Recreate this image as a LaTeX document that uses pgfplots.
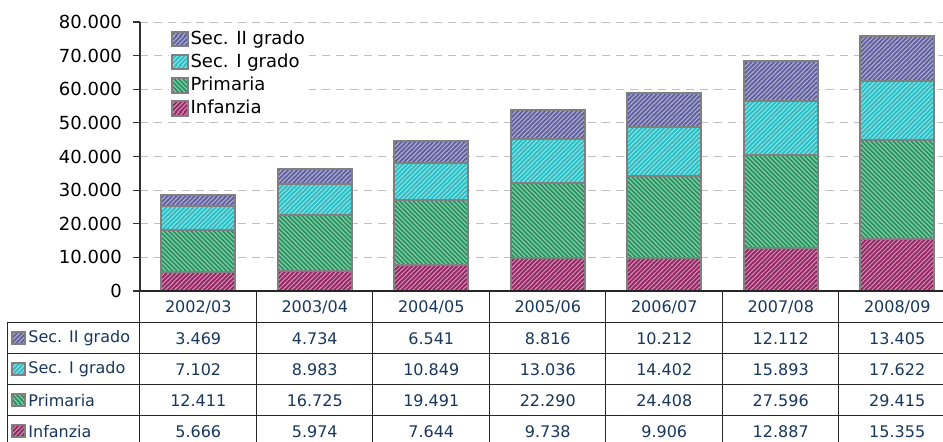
\documentclass[border=0pt]{standalone}
\usepackage{pgfplots}
\pgfplotsset{compat=1.18}
\usepackage{pgfplotstable}
\usetikzlibrary{patterns}
\usepackage{fontspec}
\setmainfont{DejaVu Sans}
\definecolor{cInf}{RGB}{152,38,102}
\definecolor{cPri}{RGB}{38,150,96}
\definecolor{cSa}{RGB}{40,192,198}
\definecolor{cSb}{RGB}{96,96,160}
\definecolor{navy}{RGB}{23,55,94}
\definecolor{bord}{RGB}{128,128,128}
\newcommand{\declhatch}[3]{% name, colour, direction (1 = NE, 0 = NW)
  \pgfdeclarepatterninherentlycolored{#1}{\pgfpointorigin}{\pgfqpoint{4.7pt}{4.7pt}}{\pgfqpoint{4.7pt}{4.7pt}}{%
    \pgfsetfillcolor{#2}%
    \pgfpathrectangle{\pgfqpoint{-0.5pt}{-0.5pt}}{\pgfqpoint{5.7pt}{5.7pt}}%
    \pgfusepath{fill}%
    \pgfsetstrokecolor{#2!50!white}%
    \pgfsetlinewidth{0.55pt}%
    \ifnum#3=1
      \pgfpathmoveto{\pgfqpoint{-1pt}{-5.7pt}}\pgfpathlineto{\pgfqpoint{5.7pt}{1pt}}%
      \pgfpathmoveto{\pgfqpoint{-1pt}{-3.35pt}}\pgfpathlineto{\pgfqpoint{5.7pt}{3.35pt}}%
      \pgfpathmoveto{\pgfqpoint{-1pt}{-1pt}}\pgfpathlineto{\pgfqpoint{5.7pt}{5.7pt}}%
      \pgfpathmoveto{\pgfqpoint{-1pt}{1.35pt}}\pgfpathlineto{\pgfqpoint{5.7pt}{8.05pt}}%
      \pgfpathmoveto{\pgfqpoint{-1pt}{3.7pt}}\pgfpathlineto{\pgfqpoint{5.7pt}{10.4pt}}%
    \else
      \pgfpathmoveto{\pgfqpoint{-1pt}{1pt}}\pgfpathlineto{\pgfqpoint{5.7pt}{-5.7pt}}%
      \pgfpathmoveto{\pgfqpoint{-1pt}{3.35pt}}\pgfpathlineto{\pgfqpoint{5.7pt}{-3.35pt}}%
      \pgfpathmoveto{\pgfqpoint{-1pt}{5.7pt}}\pgfpathlineto{\pgfqpoint{5.7pt}{-1pt}}%
      \pgfpathmoveto{\pgfqpoint{-1pt}{8.05pt}}\pgfpathlineto{\pgfqpoint{5.7pt}{1.35pt}}%
      \pgfpathmoveto{\pgfqpoint{-1pt}{10.4pt}}\pgfpathlineto{\pgfqpoint{5.7pt}{3.7pt}}%
    \fi
    \pgfusepath{stroke}}}
\declhatch{hInf}{cInf}{1}
\declhatch{hPri}{cPri}{0}
\declhatch{hSa}{cSa}{1}
\declhatch{hSb}{cSb}{1}
\tikzset{
  barInf/.style={pattern=hInf, draw=bord, line width=1pt},
  barPri/.style={pattern=hPri, draw=bord, line width=1pt},
  barSa/.style={pattern=hSa, draw=bord, line width=1pt},
  barSb/.style={pattern=hSb, draw=bord, line width=1pt},
}
\newcommand{\tabfont}{\fontsize{8}{9.6}\selectfont}
\pgfplotstableread{
x inf pri seca secb
0 5666 12411 7102 3469
1 5974 16725 8983 4734
2 7644 19491 10849 6541
3 9738 22290 13036 8816
4 9906 24408 14402 10212
5 12887 27596 15893 12112
6 15355 29415 17622 13405
}\data
\begin{document}
\begin{tikzpicture}
\begin{axis}[
  at={(70pt,75pt)}, anchor=south west,
  scale only axis, width=407.75pt, height=134.5pt,
  xmin=-0.5, xmax=6.5, ymin=0, ymax=80000,
  ybar stacked, bar width=37pt,
  axis x line*=bottom, axis y line*=left,
  axis line style={black!80, line width=0.6pt},
  xtick={0,...,6},
  xticklabels={2002/03,2003/04,2004/05,2005/06,2006/07,2007/08,2008/09},
  x tick style={draw=none},
  xticklabel style={anchor=center, yshift=-4.4pt, font=\tabfont, text=navy},
  ytick={0,10000,...,80000},
  scaled y ticks=false,
  yticklabel style={font=\fontsize{9}{10.8}\selectfont, xshift=-2pt},
  /pgf/number format/1000 sep={.},
  /pgf/number format/assume math mode=true,
  tick align=outside, major tick length=3.5pt,
  y tick style={black!80, line width=0.6pt},
  ymajorgrids, grid style={gray!50, line width=0.5pt, dash pattern=on 4pt off 3pt},
  reverse legend,
  legend cell align=left,
  legend image code/.code={\path[#1] (0pt,-3.6pt) rectangle (8pt,3.6pt);},
  legend style={at={(0.035,0.985)}, anchor=north west, draw=none, fill=white,
    inner sep=1pt, row sep=1pt, font=\fontsize{9}{10.8}\selectfont,
    nodes={inner sep=0.8pt, text height=7pt, text depth=2pt}},
]
\addplot[barInf] table[x=x, y=inf] {\data};
\addplot[barPri] table[x=x, y=pri] {\data};
\addplot[barSa] table[x=x, y=seca] {\data};
\addplot[barSb] table[x=x, y=secb] {\data};
\legend{Infanzia, Primaria, Sec. I grado, Sec. II grado}
\end{axis}
\begin{axis}[
  at={(70pt,75pt)}, anchor=north west,
  scale only axis, width=407.75pt, height=77.5pt,
  xmin=-0.5, xmax=6.5, ymin=-5, ymax=0,
  hide axis, clip=false,
  /pgf/number format/1000 sep={.},
  /pgf/number format/assume math mode=true,
  nodes near coords style={anchor=center, font=\tabfont, text=navy, yshift=-0.5pt},
]
\addplot[draw=none, mark=none, nodes near coords, point meta=explicit] table[x=x, y expr=-1.5, meta=secb] {\data};
\addplot[draw=none, mark=none, nodes near coords, point meta=explicit] table[x=x, y expr=-2.5, meta=seca] {\data};
\addplot[draw=none, mark=none, nodes near coords, point meta=explicit] table[x=x, y expr=-3.5, meta=pri] {\data};
\addplot[draw=none, mark=none, nodes near coords, point meta=explicit] table[x=x, y expr=-4.5, meta=inf] {\data};
\draw[black!85, line width=0.6pt] (axis cs:-0.5,0) -- (axis cs:6.5,0);
\pgfplotsinvokeforeach{-0.5,0.5,1.5,2.5,3.5,4.5,5.5,6.5}{
  \draw[black!85, line width=0.5pt] (axis cs:#1,0) -- (axis cs:#1,-5);
}
\pgfplotsinvokeforeach{-1,-2,-3,-4,-5}{
  \draw[black!85, line width=0.5pt] ([xshift=-66pt]axis cs:-0.5,#1) -- (axis cs:6.5,#1);
}
\draw[black!85, line width=0.5pt] ([xshift=-66pt]axis cs:-0.5,-1) -- ([xshift=-66pt]axis cs:-0.5,-5);
\path[barSb] ([xshift=-64pt, yshift=-3pt]axis cs:-0.5,-1.5) rectangle ([xshift=-57.5pt, yshift=3pt]axis cs:-0.5,-1.5);
\path[barSa] ([xshift=-64pt, yshift=-3pt]axis cs:-0.5,-2.5) rectangle ([xshift=-57.5pt, yshift=3pt]axis cs:-0.5,-2.5);
\path[barPri] ([xshift=-64pt, yshift=-3pt]axis cs:-0.5,-3.5) rectangle ([xshift=-57.5pt, yshift=3pt]axis cs:-0.5,-3.5);
\path[barInf] ([xshift=-64pt, yshift=-3pt]axis cs:-0.5,-4.5) rectangle ([xshift=-57.5pt, yshift=3pt]axis cs:-0.5,-4.5);
\node[anchor=west, inner sep=0pt, font=\tabfont, text=navy] at ([xshift=-56pt, yshift=-0.5pt]axis cs:-0.5,-1.5) {Sec. II grado};
\node[anchor=west, inner sep=0pt, font=\tabfont, text=navy] at ([xshift=-56pt, yshift=-0.5pt]axis cs:-0.5,-2.5) {Sec. I grado};
\node[anchor=west, inner sep=0pt, font=\tabfont, text=navy] at ([xshift=-56pt, yshift=-0.5pt]axis cs:-0.5,-3.5) {Primaria};
\node[anchor=west, inner sep=0pt, font=\tabfont, text=navy] at ([xshift=-56pt, yshift=-0.5pt]axis cs:-0.5,-4.5) {Infanzia};
\end{axis}
\pgfresetboundingbox
\path[use as bounding box] (0pt,0pt) rectangle (471.5pt,220.5pt);
\end{tikzpicture}
\end{document}
